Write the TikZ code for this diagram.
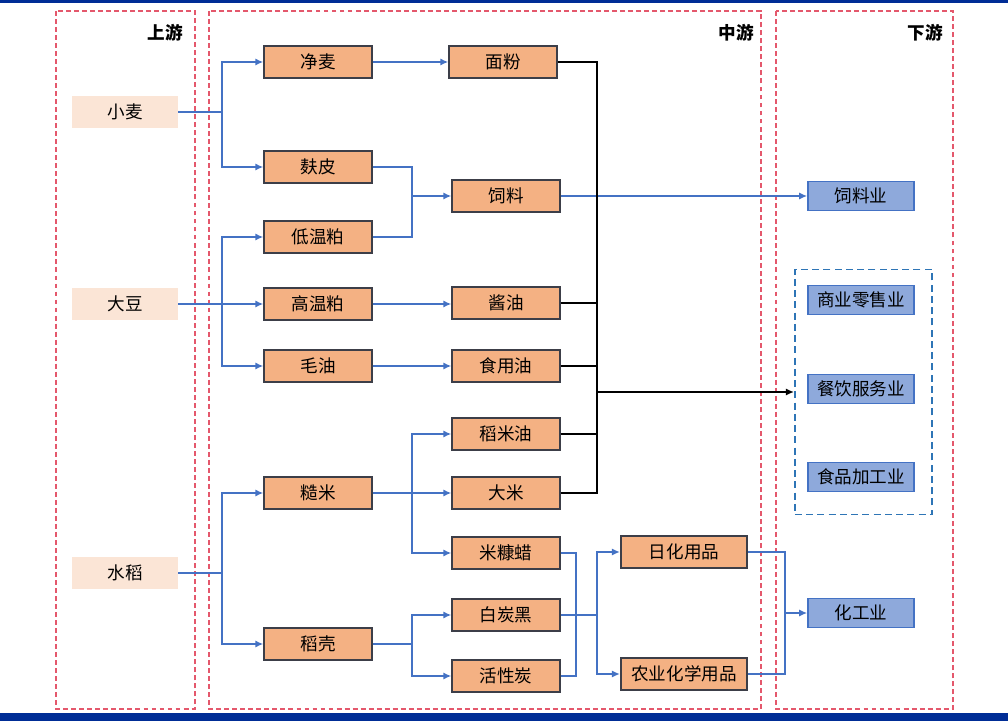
\documentclass[tikz,border=0pt]{standalone}
\usepackage{fontspec}
\setmainfont{Noto Sans CJK SC}
\usetikzlibrary{arrows.meta,positioning}
\definecolor{icnavy}{RGB}{0,45,150}
\definecolor{icblue}{RGB}{68,114,196}
\definecolor{iclightblue}{RGB}{142,169,219}
\definecolor{icorange}{RGB}{244,177,131}
\definecolor{icpeach}{RGB}{251,229,214}
\definecolor{icdark}{RGB}{60,62,72}
\definecolor{icred}{RGB}{228,88,108}
\definecolor{icteal}{RGB}{46,117,182}
\tikzset{
  icraw/.style={fill=icpeach, minimum width=2.65cm, minimum height=.8cm, inner sep=0pt},
  icproc/.style={draw=icdark, line width=1.5pt, fill=icorange, minimum width=2.68cm, minimum height=.78cm, inner sep=0pt},
  icend/.style={draw=icblue, line width=1.1pt, fill=iclightblue, minimum width=2.65cm, minimum height=.72cm, inner sep=0pt},
  icline/.style={line width=1.3pt, draw=icblue},
  icarr/.style={-{Latex[length=2mm,width=1.8mm]}, line width=1.3pt, draw=icblue},
  icblack/.style={line width=1.3pt, draw=black},
  icpanel/.style={draw=icred, line width=1.5pt, dash pattern=on 3.5pt off 2.2pt},
  ictitle/.style={font=\fontsize{12.5pt}{14pt}\selectfont\bfseries}
}
\begin{document}
\begin{tikzpicture}[x=0.025cm, y=-0.025cm, font=\fontsize{12.5pt}{14pt}\selectfont]
  \useasboundingbox (0,0) rectangle (1008,721);
  \fill[icnavy] (0,0) rectangle (1008,3);
  \fill[icnavy] (0,713) rectangle (1008,721);
  % stage panels
  \draw[icpanel] (56,11) rectangle (195,709);
  \draw[icpanel] (209,11) rectangle (761,709);
  \draw[icpanel] (776,11) rectangle (953,709);
  \node[ictitle] (tup) at (165,33) {上游};
  \node[ictitle] (tmid) at (736,33) {中游};
  \node[ictitle] (tdown) at (925,33) {下游};
  % upstream
  \node[icraw] (xiaomai) at (125,112) {小麦};
  \node[icraw] (dadou) at (125,304) {大豆};
  \node[icraw] (shuidao) at (125,573) {水稻};
  % midstream
  \node[icproc] (jingmai) at (318,62) {净麦};
  \node[icproc] (fupi) at (318,167) {麸皮};
  \node[icproc] (diwen) at (318,237) {低温粕};
  \node[icproc] (gaowen) at (318,304) {高温粕};
  \node[icproc] (maoyou) at (318,366) {毛油};
  \node[icproc] (caomi) at (318,493) {糙米};
  \node[icproc] (daoke) at (318,644) {稻壳};
  \node[icproc] (mianfen) at (503,62) {面粉};
  \node[icproc] (siliao) at (506,196) {饲料};
  \node[icproc] (jiangyou) at (506,303) {酱油};
  \node[icproc] (shiyongyou) at (506,366) {食用油};
  \node[icproc] (daomiyou) at (506,434) {稻米油};
  \node[icproc] (dami) at (506,493) {大米};
  \node[icproc] (mikangla) at (506,553) {米糠蜡};
  \node[icproc] (baitanhei) at (506,615) {白炭黑};
  \node[icproc] (huoxingtan) at (506,676) {活性炭};
  \node[icproc, minimum width=3.15cm] (rihua) at (684,552) {日化用品};
  \node[icproc, minimum width=3.15cm] (nongye) at (684,674) {农业化学用品};
  % downstream
  \node[icend] (siliaoye) at (861,196) {饲料业};
  \node[draw=icteal, line width=1.3pt, dash pattern=on 5pt off 3pt, minimum width=3.43cm, minimum height=6.12cm] (svcbox) at (863.5,392) {};
  \node[icend] (lingshou) at (861,300) {商业零售业};
  \node[icend] (canyin) at (861,389) {餐饮服务业};
  \node[icend] (jiagong) at (861,477) {食品加工业};
  \node[icend] (huagong) at (861,613) {化工业};
  % wheat
  \coordinate (jwheat) at (222,112);
  \draw[icline] (xiaomai.east) -- (jwheat);
  \draw[icarr] (jwheat) |- (jingmai.west);
  \draw[icarr] (jwheat) |- (fupi.west);
  \draw[icarr] (jingmai) -- (mianfen);
  \coordinate (jfeed) at (412,196);
  \draw[icline] (fupi.east) -| (jfeed);
  \draw[icline] (diwen.east) -| (jfeed);
  \draw[icarr] (jfeed) -- (siliao.west);
  \draw[icarr] (siliao.east) -- (siliaoye.west);
  % soybean
  \coordinate (jsoy) at (222,304);
  \draw[icline] (dadou.east) -- (jsoy);
  \draw[icarr] (jsoy) |- (diwen.west);
  \draw[icarr] (jsoy) -- (gaowen.west);
  \draw[icarr] (jsoy) |- (maoyou.west);
  \draw[icarr] (gaowen.east) -- (gaowen.east -| jiangyou.west);
  \draw[icarr] (maoyou) -- (shiyongyou);
  % rice
  \coordinate (jrice) at (222,573);
  \draw[icline] (shuidao.east) -- (jrice);
  \draw[icarr] (jrice) |- (caomi.west);
  \draw[icarr] (jrice) |- (daoke.west);
  \coordinate (jcaomi) at (412,493);
  \draw[icline] (caomi.east) -- (jcaomi);
  \draw[icarr] (jcaomi) |- (daomiyou.west);
  \draw[icarr] (jcaomi) -- (dami.west);
  \draw[icarr] (jcaomi) |- (mikangla.west);
  \coordinate (jdaoke) at (412,644);
  \draw[icline] (daoke.east) -- (jdaoke);
  \draw[icarr] (jdaoke) |- (baitanhei.west);
  \draw[icarr] (jdaoke) |- (huoxingtan.west);
  \coordinate (jwax) at (576,615);
  \draw[icline] (mikangla.east) -| (jwax);
  \draw[icline] (huoxingtan.east) -| (jwax);
  \coordinate (jchem) at (597,615);
  \draw[icline] (baitanhei.east) -- (jchem);
  \draw[icarr] (jchem) |- (rihua.west);
  \draw[icarr] (jchem) |- (nongye.west);
  \coordinate (jind) at (785,613);
  \draw[icline] (rihua.east) -| (jind);
  \draw[icline] (nongye.east) -| (jind);
  \draw[icarr] (jind) -- (huagong.west);
  % food products
  \coordinate (jfood) at (597,392);
  \draw[icblack] (mianfen.east) -| (jfood);
  \draw[icblack] (jiangyou.east) -| (jfood);
  \draw[icblack] (shiyongyou.east) -| (jfood);
  \draw[icblack] (daomiyou.east) -| (jfood);
  \draw[icblack] (dami.east) -| (jfood);
  \draw[icblack, -{Latex[length=2mm,width=1.8mm]}] (jfood) -- (svcbox.west);
\end{tikzpicture}
\end{document}
